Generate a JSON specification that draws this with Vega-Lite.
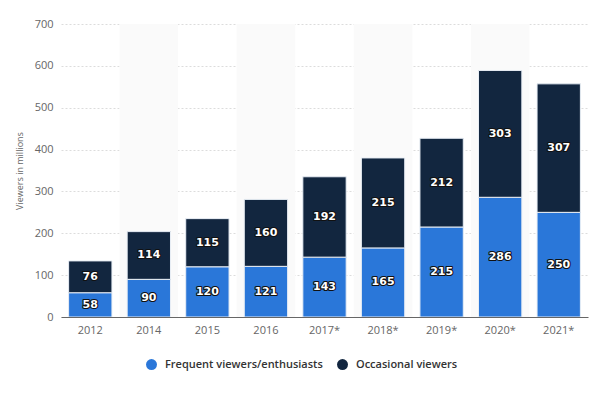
{
  "$schema": "https://vega.github.io/schema/vega-lite/v6.json",
  "width": 527,
  "height": 293,
  "autosize": "none",
  "padding": {"left": 61, "top": 24, "right": 18, "bottom": 79},
  "background": "white",
  "config": {"view": {"stroke": null}, "font": "Open Sans"},
  "datasets": {
    "bands": [
      {"year": "2014", "top": 700},
      {"year": "2016", "top": 700},
      {"year": "2018*", "top": 700},
      {"year": "2020*", "top": 700}
    ],
    "main": [
      {"year": "2012", "type": "Frequent viewers/enthusiasts", "o": 1, "value": 58},
      {"year": "2012", "type": "Occasional viewers", "o": 2, "value": 76},
      {"year": "2014", "type": "Frequent viewers/enthusiasts", "o": 1, "value": 90},
      {"year": "2014", "type": "Occasional viewers", "o": 2, "value": 114},
      {"year": "2015", "type": "Frequent viewers/enthusiasts", "o": 1, "value": 120},
      {"year": "2015", "type": "Occasional viewers", "o": 2, "value": 115},
      {"year": "2016", "type": "Frequent viewers/enthusiasts", "o": 1, "value": 121},
      {"year": "2016", "type": "Occasional viewers", "o": 2, "value": 160},
      {"year": "2017*", "type": "Frequent viewers/enthusiasts", "o": 1, "value": 143},
      {"year": "2017*", "type": "Occasional viewers", "o": 2, "value": 192},
      {"year": "2018*", "type": "Frequent viewers/enthusiasts", "o": 1, "value": 165},
      {"year": "2018*", "type": "Occasional viewers", "o": 2, "value": 215},
      {"year": "2019*", "type": "Frequent viewers/enthusiasts", "o": 1, "value": 215},
      {"year": "2019*", "type": "Occasional viewers", "o": 2, "value": 212},
      {"year": "2020*", "type": "Frequent viewers/enthusiasts", "o": 1, "value": 286},
      {"year": "2020*", "type": "Occasional viewers", "o": 2, "value": 303},
      {"year": "2021*", "type": "Frequent viewers/enthusiasts", "o": 1, "value": 250},
      {"year": "2021*", "type": "Occasional viewers", "o": 2, "value": 307}
    ]
  },
  "layer": [
    {
      "data": {"name": "bands"},
      "mark": {"type": "rect", "color": "#fafafa"},
      "encoding": {
        "x": {
          "field": "year", "type": "ordinal",
          "scale": {"domain": ["2012", "2014", "2015", "2016", "2017*", "2018*", "2019*", "2020*", "2021*"], "paddingInner": 0, "paddingOuter": 0},
          "axis": {"title": null, "labelAngle": 0, "labelColor": "#666", "labelFontSize": 11, "labelPadding": 7, "ticks": false, "domainColor": "#666", "domainWidth": 1.2, "grid": false}
        },
        "y": {
          "field": "top", "type": "quantitative",
          "scale": {"domain": [0, 700], "nice": false},
          "axis": {"title": "Viewers in millions", "titleFontSize": 9, "titleFontWeight": "normal", "titleColor": "#666", "titlePadding": 10, "labelColor": "#666", "labelFontSize": 11, "labelPadding": 8, "values": [0, 100, 200, 300, 400, 500, 600, 700], "domain": false, "ticks": false, "gridColor": "#dcdcdc", "gridDash": [2, 2]}
        },
        "y2": {"datum": 0}
      }
    },
    {
      "data": {"name": "main"},
      "transform": [
        {"stack": "value", "groupby": ["year"], "sort": [{"field": "o", "order": "ascending"}], "as": ["y0", "y1"]}
      ],
      "layer": [
        {
          "mark": {"type": "bar", "width": {"band": 0.74}, "stroke": "#e8eef5", "strokeWidth": 1},
          "encoding": {
            "x": {"field": "year", "type": "ordinal"},
            "y": {"field": "y0", "type": "quantitative", "axis": {"title": "Viewers in millions"}},
            "y2": {"field": "y1"},
            "color": {
              "field": "type", "type": "nominal",
              "scale": {"domain": ["Frequent viewers/enthusiasts", "Occasional viewers"], "range": ["#2a77d9", "#12263f"]},
              "legend": {"title": null, "orient": "none", "legendX": 85, "legendY": 335, "direction": "horizontal", "symbolType": "circle", "symbolSize": 120, "symbolStrokeWidth": 0, "labelFontSize": 11, "labelFontWeight": 600, "labelColor": "#333", "labelLimit": 400, "columnPadding": 14, "labelOffset": 8}
            }
          }
        },
        {
          "transform": [{"calculate": "(datum.y0 + datum.y1) / 2", "as": "mid"}],
          "mark": {"type": "text", "font": "DejaVu Sans", "fontSize": 11, "fontWeight": "bold", "color": "#111", "stroke": "#111", "strokeWidth": 2.2, "strokeJoin": "round"},
          "encoding": {
            "x": {"field": "year", "type": "ordinal"},
            "y": {"field": "mid", "type": "quantitative"},
            "text": {"field": "value", "type": "quantitative"}
          }
        },
        {
          "transform": [{"calculate": "(datum.y0 + datum.y1) / 2", "as": "mid"}],
          "mark": {"type": "text", "font": "DejaVu Sans", "fontSize": 11, "fontWeight": "bold", "color": "white"},
          "encoding": {
            "x": {"field": "year", "type": "ordinal"},
            "y": {"field": "mid", "type": "quantitative"},
            "text": {"field": "value", "type": "quantitative"}
          }
        }
      ]
    }
  ]
}
